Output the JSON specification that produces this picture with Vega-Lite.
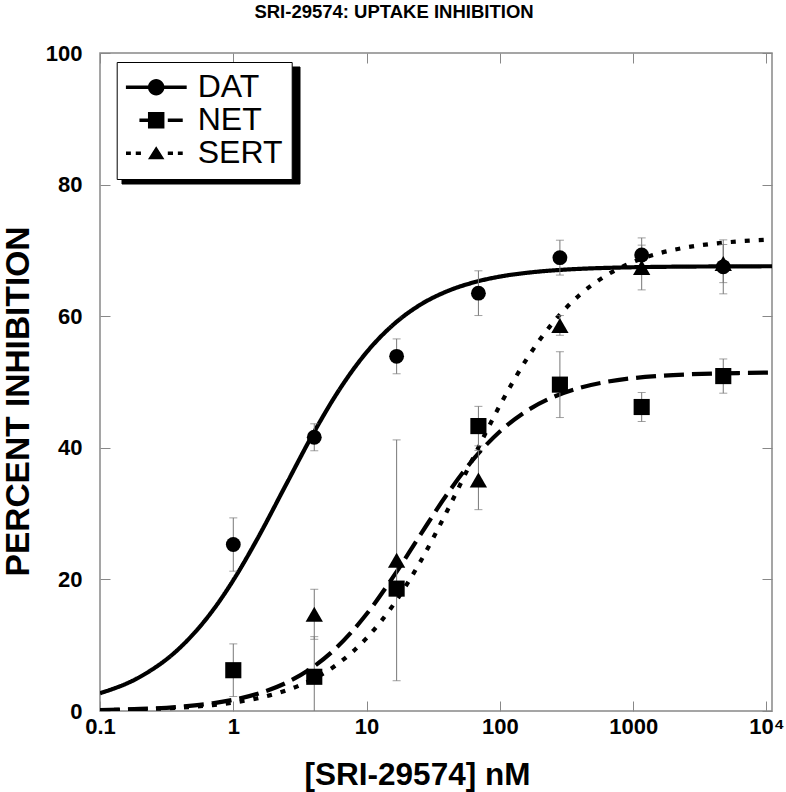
{
  "$schema": "https://vega.github.io/schema/vega-lite/v6.json",
  "width": 672,
  "height": 658,
  "autosize": {"type": "none"},
  "padding": {"left": 100, "top": 53, "right": 14, "bottom": 81},
  "background": "white",
  "title": {"text": "SRI-29574: UPTAKE INHIBITION", "font": "Liberation Sans", "fontSize": 18.5, "fontWeight": "bold", "anchor": "middle", "frame": "group", "dx": -42, "baseline": "alphabetic", "offset": 6, "color": "black"},
  "config": {"view": {"stroke": "#888", "strokeWidth": 1.5}, "font": "Liberation Sans"},
  "datasets": {
    "points": [
      {"series": "SERT", "x": 4.05, "y": 14.7, "err": 3.8},
      {"series": "SERT", "x": 16.8, "y": 22.9, "err": 18.3},
      {"series": "SERT", "x": 69, "y": 35.1, "err": 4.5},
      {"series": "SERT", "x": 282, "y": 58.6, "err": 1.5},
      {"series": "SERT", "x": 1158, "y": 67.4, "err": 3.4},
      {"series": "SERT", "x": 4740, "y": 68.0, "err": 2.9},
      {"series": "NET", "x": 1, "y": 6.2, "err": 4.0},
      {"series": "NET", "x": 4.05, "y": 5.2, "err": 6.1},
      {"series": "NET", "x": 16.8, "y": 18.6, "err": 1.0},
      {"series": "NET", "x": 69, "y": 43.3, "err": 3.0},
      {"series": "NET", "x": 282, "y": 49.6, "err": 5.0},
      {"series": "NET", "x": 1158, "y": 46.2, "err": 2.2},
      {"series": "NET", "x": 4740, "y": 50.9, "err": 2.6},
      {"series": "DAT", "x": 1, "y": 25.3, "err": 4.05},
      {"series": "DAT", "x": 4.05, "y": 41.6, "err": 2.05},
      {"series": "DAT", "x": 16.8, "y": 53.9, "err": 2.65},
      {"series": "DAT", "x": 69, "y": 63.5, "err": 3.4},
      {"series": "DAT", "x": 282, "y": 68.9, "err": 2.65},
      {"series": "DAT", "x": 1158, "y": 69.3, "err": 2.6},
      {"series": "DAT", "x": 4740, "y": 67.5, "err": 4.1}
    ],
    "curves": [
      {"series": "DAT", "x": 0.1, "y": 2.7}, {"series": "DAT", "x": 0.2, "y": 5.2}, {"series": "DAT", "x": 0.4, "y": 9.66}, {"series": "DAT", "x": 0.7, "y": 15.26}, {"series": "DAT", "x": 1, "y": 19.88}, {"series": "DAT", "x": 1.5, "y": 26.0}, {"series": "DAT", "x": 2.5, "y": 34.49}, {"series": "DAT", "x": 4, "y": 42.25}, {"series": "DAT", "x": 6, "y": 48.29}, {"series": "DAT", "x": 10, "y": 54.52}, {"series": "DAT", "x": 16, "y": 58.78}, {"series": "DAT", "x": 25, "y": 61.68}, {"series": "DAT", "x": 40, "y": 63.77}, {"series": "DAT", "x": 65, "y": 65.19}, {"series": "DAT", "x": 100, "y": 66.02}, {"series": "DAT", "x": 160, "y": 66.6}, {"series": "DAT", "x": 250, "y": 66.96}, {"series": "DAT", "x": 400, "y": 67.2}, {"series": "DAT", "x": 650, "y": 67.35}, {"series": "DAT", "x": 1000, "y": 67.44}, {"series": "DAT", "x": 1600, "y": 67.5}, {"series": "DAT", "x": 2500, "y": 67.54}, {"series": "DAT", "x": 4000, "y": 67.56}, {"series": "DAT", "x": 6500, "y": 67.58}, {"series": "DAT", "x": 11000, "y": 67.59},
      {"series": "NET", "x": 0.1, "y": 0.15}, {"series": "NET", "x": 0.2, "y": 0.31}, {"series": "NET", "x": 0.4, "y": 0.65}, {"series": "NET", "x": 0.7, "y": 1.17}, {"series": "NET", "x": 1, "y": 1.7}, {"series": "NET", "x": 1.5, "y": 2.58}, {"series": "NET", "x": 2.5, "y": 4.29}, {"series": "NET", "x": 4, "y": 6.73}, {"series": "NET", "x": 6, "y": 9.7}, {"series": "NET", "x": 10, "y": 14.74}, {"series": "NET", "x": 16, "y": 20.53}, {"series": "NET", "x": 25, "y": 26.6}, {"series": "NET", "x": 40, "y": 32.89}, {"series": "NET", "x": 65, "y": 38.53}, {"series": "NET", "x": 100, "y": 42.48}, {"series": "NET", "x": 160, "y": 45.64}, {"series": "NET", "x": 250, "y": 47.7}, {"series": "NET", "x": 400, "y": 49.13}, {"series": "NET", "x": 650, "y": 50.07}, {"series": "NET", "x": 1000, "y": 50.59}, {"series": "NET", "x": 1600, "y": 50.94}, {"series": "NET", "x": 2500, "y": 51.15}, {"series": "NET", "x": 4000, "y": 51.29}, {"series": "NET", "x": 6500, "y": 51.37}, {"series": "NET", "x": 11000, "y": 51.43},
      {"series": "SERT", "x": 0.1, "y": 0.13}, {"series": "SERT", "x": 0.2, "y": 0.26}, {"series": "SERT", "x": 0.4, "y": 0.52}, {"series": "SERT", "x": 0.7, "y": 0.9}, {"series": "SERT", "x": 1, "y": 1.29}, {"series": "SERT", "x": 1.5, "y": 1.91}, {"series": "SERT", "x": 2.5, "y": 3.13}, {"series": "SERT", "x": 4, "y": 4.88}, {"series": "SERT", "x": 6, "y": 7.08}, {"series": "SERT", "x": 10, "y": 11.08}, {"series": "SERT", "x": 16, "y": 16.23}, {"series": "SERT", "x": 25, "y": 22.5}, {"series": "SERT", "x": 40, "y": 30.32}, {"series": "SERT", "x": 65, "y": 39.0}, {"series": "SERT", "x": 100, "y": 46.45}, {"series": "SERT", "x": 160, "y": 53.58}, {"series": "SERT", "x": 250, "y": 59.02}, {"series": "SERT", "x": 400, "y": 63.3}, {"series": "SERT", "x": 650, "y": 66.38}, {"series": "SERT", "x": 1000, "y": 68.25}, {"series": "SERT", "x": 1600, "y": 69.61}, {"series": "SERT", "x": 2500, "y": 70.45}, {"series": "SERT", "x": 4000, "y": 71.02}, {"series": "SERT", "x": 6500, "y": 71.4}, {"series": "SERT", "x": 11000, "y": 71.64}
    ]
  },
  "encoding": {
    "x": {"field": "x", "type": "quantitative", "scale": {"type": "log", "domain": [0.1, 11000], "nice": false}, "axis": null},
    "y": {"field": "y", "type": "quantitative", "scale": {"domain": [0, 100], "nice": false, "zero": false}, "axis": null}
  },
  "layer": [
    {
      "data": {"name": "curves"},
      "mark": {"type": "line", "strokeWidth": 4.2, "interpolate": "monotone", "color": "black", "clip": true, "strokeCap": "butt"},
      "encoding": {
        "x": {"field": "x", "type": "quantitative", "scale": {"type": "log", "domain": [0.1, 11000], "nice": false},
          "axis": {"orient": "bottom", "values": [0.1, 1, 10, 100, 1000, 10000], "labelExpr": "datum.value >= 10000 ? '10⁴' : (datum.value < 1 ? '0.1' : format(datum.value, 'd'))", "labelFont": "Liberation Sans", "labelFontSize": 22, "labelFontWeight": "bold", "labelColor": "black", "labelPadding": 15, "labelFlush": false, "labelOverlap": false, "tickSize": -10, "tickColor": "#888", "tickWidth": 1, "domain": false, "grid": false, "title": "[SRI-29574] nM", "titleFont": "Liberation Sans", "titleFontSize": 31.5, "titleFontWeight": "bold", "titleColor": "black", "titleX": 317, "titleY": 73, "titleBaseline": "alphabetic", "titleAlign": "center"}},
        "y": {"field": "y", "type": "quantitative", "scale": {"domain": [0, 100], "nice": false, "zero": false},
          "axis": {"orient": "left", "values": [0, 20, 40, 60, 80, 100], "labelFont": "Liberation Sans", "labelFontSize": 22, "labelFontWeight": "bold", "labelColor": "black", "labelPadding": 28, "tickSize": -10, "tickColor": "#888", "tickWidth": 1, "domain": false, "grid": false, "title": "PERCENT INHIBITION", "titleFont": "Liberation Sans", "titleFontSize": 33.5, "titleFontWeight": "bold", "titleColor": "black", "titleX": -72, "titleY": 348, "titleBaseline": "alphabetic", "titleAlign": "center", "titleAngle": -90}},
        "strokeDash": {"field": "series", "type": "nominal", "scale": {"domain": ["DAT", "NET", "SERT"], "range": [[1, 0], [20, 8], [5, 9]]}, "legend": null}
      }
    },
    {
      "data": {"name": "points"},
      "mark": {"type": "errorbar", "clip": true, "ticks": {"size": 8, "color": "#777", "thickness": 1}, "rule": {"color": "#777", "strokeWidth": 1}},
      "encoding": {
        "y": {"field": "y", "type": "quantitative", "scale": {"domain": [0, 100], "nice": false, "zero": false}, "axis": null},
        "yError": {"field": "err"}
      }
    },
    {
      "data": {"name": "points"},
      "mark": {"type": "point", "filled": true, "color": "black", "opacity": 1, "strokeWidth": 0},
      "encoding": {
        "shape": {"field": "series", "type": "nominal", "scale": {"domain": ["DAT", "NET", "SERT"], "range": ["circle", "square", "triangle-up"]}, "legend": null},
        "size": {"field": "series", "type": "ordinal", "scale": {"domain": ["DAT", "NET", "SERT"], "range": [220, 300, 270]}, "legend": null}
      }
    },
    {
      "data": {"name": "points"},
      "mark": {"type": "point", "filled": true, "color": "black", "opacity": 0},
      "encoding": {
        "shape": {"field": "series", "type": "nominal",
          "scale": {"domain": ["DAT", "NET", "SERT"], "range": ["M0,0H0.01V0.01H0Z", "M0,0H0.01V0.01H0Z", "M0,0H0.01V0.01H0Z"]},
          "legend": {"orient": "none", "legendX": 21.5, "legendY": 13.5, "title": null, "padding": 9, "rowPadding": 0, "clipHeight": 32.5, "symbolSize": 25600, "labelExpr": "''", "labelFontSize": 1, "labelOffset": 0, "strokeColor": "black", "fillColor": "black", "symbolOpacity": 1, "symbolFillColor": "black", "symbolStrokeWidth": 0,
            "encode": {"symbols": {"update": {"fill": {"value": "black"}, "opacity": {"value": 1}, "fillOpacity": {"value": 1}}}, "legend": {"update": {"strokeWidth": {"value": 2.5}}}}}
        }
      }
    },
    {
      "data": {"name": "points"},
      "mark": {"type": "point", "filled": true, "color": "black", "opacity": 0},
      "encoding": {
        "x": {"field": "x", "type": "quantitative", "scale": {"type": "log", "domain": [0.1, 11000], "nice": false},
          "axis": {"orient": "top", "values": [0.1, 1, 10, 100, 1000, 10000], "labels": false, "tickSize": -10, "tickColor": "#888", "tickWidth": 1, "domain": false, "grid": false, "title": null}},
        "y": {"field": "y", "type": "quantitative", "scale": {"domain": [0, 100], "nice": false, "zero": false},
          "axis": {"orient": "right", "values": [0, 20, 40, 60, 80, 100], "labels": false, "tickSize": -10, "tickColor": "#888", "tickWidth": 1, "domain": false, "grid": false, "title": null}},
        "shape": {"field": "series", "type": "nominal",
          "scale": {"domain": ["DAT", "NET", "SERT"], "range": [
            "M-1,-0.055H-0.22V0.055H-1Z M0.22,-0.055H1V0.055H0.22Z M-0.27,0A0.27,0.27,0,1,1,0.27,0A0.27,0.27,0,1,1,-0.27,0Z",
            "M-0.55,-0.055H-0.27V0.055H-0.55Z M0.38,-0.055H0.87V0.055H0.38Z M-0.27,-0.27H0.27V0.27H-0.27Z",
            "M-0.99,-0.055H-0.83V0.055H-0.99Z M-0.67,-0.055H-0.5V0.055H-0.67Z M0.38,-0.055H0.55V0.055H0.38Z M0.71,-0.055H0.87V0.055H0.71Z M0,-0.23L0.27,0.2H-0.27Z"
          ]},
          "legend": {"orient": "none", "legendX": 16.7, "legendY": 9, "title": null, "padding": 9, "rowPadding": 0, "clipHeight": 32.5, "symbolSize": 3721, "labelFont": "Liberation Sans", "labelFontSize": 32, "labelFontWeight": "normal", "labelColor": "black", "labelOffset": 11, "strokeColor": "black", "fillColor": "white", "symbolOpacity": 1, "symbolFillColor": "black", "symbolStrokeWidth": 0,
            "encode": {"symbols": {"update": {"fill": {"value": "black"}, "opacity": {"value": 1}, "fillOpacity": {"value": 1}}}, "legend": {"update": {"strokeWidth": {"value": 2.5}}}}}
        }
      }
    }
  ],
  "resolve": {"scale": {"shape": "independent", "size": "independent"}, "axis": {"x": "independent", "y": "independent"}}
}
